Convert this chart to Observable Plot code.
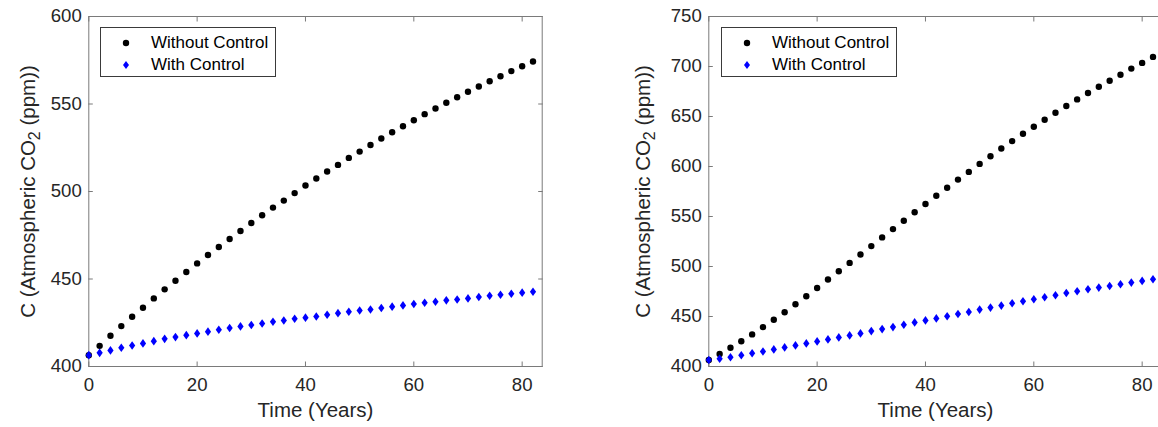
<!DOCTYPE html>
<html>
<head>
<meta charset="utf-8">
<script src="https://cdn.jsdelivr.net/npm/d3@7"></script>
<script src="https://cdn.jsdelivr.net/npm/@observablehq/plot@0.6"></script>
<style>
  body { margin: 0; background: #fff; font-family: "Liberation Sans", Arial, Helvetica, sans-serif; }
  #wrap { position: relative; width: 1158px; height: 427px; overflow: hidden; background: #fff; }
  .panel { position: absolute; top: 0; }
  .panel svg { max-width: none !important; }
  .legend { position: absolute; border: 1px solid #3a3a3a; background: #fff; box-sizing: border-box; }
  .legend .item { position: absolute; font-size: 17px; color: #000; white-space: nowrap; line-height: 1; }
  .legend svg { position: absolute; overflow: visible; }
</style>
</head>
<body>
<div id="wrap"></div>
<script>
// ---- data ----
const years = [0, 2, 4, 6, 8, 10, 12, 14, 16, 18, 20, 22, 24, 26, 28, 30, 32, 34, 36, 38, 40,
               42, 44, 46, 48, 50, 52, 54, 56, 58, 60, 62, 64, 66, 68, 70, 72, 74, 76, 78, 80, 82];

const seriesNames = ["Without Control", "With Control"];

// Left panel
const leftWithout = [406.5, 411.8, 417.6, 423.1, 428.4, 433.6, 438.9, 444.1, 449.0, 454.0, 458.9,
                     463.7, 468.3, 472.9, 477.4, 482.0, 486.4, 490.8, 494.8, 499.1, 503.4,
                     507.4, 511.4, 515.2, 519.2, 522.8, 526.6, 530.3, 533.9, 537.3, 540.7,
                     544.2, 547.4, 550.7, 553.9, 557.0, 560.0, 563.0, 565.9, 568.8, 571.6, 574.3];
const leftWith = [406.5, 407.8, 409.2, 410.7, 412.0, 413.2, 414.5, 415.8, 416.8, 417.9, 418.9,
                  419.9, 421.0, 422.0, 422.9, 423.7, 424.6, 425.6, 426.3, 427.3, 427.9,
                  428.6, 429.6, 430.5, 431.3, 432.0, 432.6, 433.4, 434.2, 434.9, 435.7,
                  436.4, 437.0, 437.8, 438.3, 438.9, 439.7, 440.4, 441.0, 441.6, 442.2, 442.7];

// Right panel
const rightWithout = [406.5, 412.6, 418.8, 425.2, 432.1, 439.4, 446.8, 454.2, 462.2, 470.2, 478.5,
                      487.0, 495.3, 503.6, 512.0, 520.4, 529.1, 537.4, 545.8, 554.2, 562.5,
                      570.8, 578.8, 586.9, 594.6, 602.6, 610.3, 618.0, 625.4, 632.7, 639.7,
                      646.7, 653.8, 660.5, 667.1, 673.5, 679.8, 685.8, 691.8, 697.9, 703.6, 709.6];
const rightWith = [406.5, 407.7, 409.3, 411.3, 413.3, 415.0, 417.1, 419.1, 421.1, 423.1, 425.1,
                   427.1, 429.1, 431.1, 433.1, 435.4, 437.4, 439.4, 441.8, 444.1, 446.1,
                   448.1, 450.2, 452.5, 454.5, 456.9, 458.9, 460.9, 463.2, 465.2, 467.2,
                   469.2, 471.2, 473.5, 475.2, 477.2, 478.9, 480.5, 482.2, 483.9, 485.6, 487.3];

const xTicks = [0, 20, 40, 60, 80];
const leftYTicks = [400, 450, 500, 550, 600];
const rightYTicks = [400, 450, 500, 550, 600, 650, 700, 750];

const xLabel = "Time (Years)";
const yLabel = "C (Atmospheric CO2 (ppm))";

// ---- styling ----
const FONT = '"Liberation Sans", Arial, Helvetica, sans-serif';
const TEXT = "#262626";
const AXIS = "#7a7a7a";
const colors = ["#000000", "#0000ff"];

// tall diamond like MATLAB's 'd' marker
const tallDiamond = {
  draw(context, size) {
    const r = Math.sqrt(size / Math.PI);
    const w = r * 0.78, h = r * 1.08;
    context.moveTo(0, -h);
    context.lineTo(w, 0);
    context.lineTo(0, h);
    context.lineTo(-w, 0);
    context.closePath();
  }
};

const PLOT_W = 453.4;

function makePanel({without, withc, yDomain, yTicks, marginLeft, width, yLabelDx}) {
  const rows = years.map((t, i) => ({t, a: without[i], b: withc[i]}));
  const tick = 4.5;
  const svg = Plot.plot({
    width, height: 427,
    marginTop: 16, marginBottom: 61, marginLeft, marginRight: width - marginLeft - PLOT_W,
    x: {domain: [0, 83.7]},
    y: {domain: yDomain},
    style: {fontFamily: FONT, color: TEXT, background: "transparent", overflow: "visible"},
    marks: [
      Plot.frame({stroke: AXIS, strokeWidth: 1}),
      // tick labels
      Plot.axisX({ticks: xTicks, anchor: "bottom", tickSize: 0, tickPadding: 11, fontSize: 18.6, label: null}),
      Plot.axisY({ticks: yTicks, anchor: "left", tickSize: 0, tickPadding: 7, fontSize: 18.6, label: null}),
      // inward ticks on all four sides
      Plot.axisX({ticks: xTicks, anchor: "bottom", tickSize: tick, dy: -tick, tickFormat: () => "", label: null, stroke: AXIS}),
      Plot.axisX({ticks: xTicks, anchor: "top", tickSize: tick, dy: tick, tickFormat: () => "", label: null, stroke: AXIS}),
      Plot.axisY({ticks: yTicks, anchor: "left", tickSize: tick, dx: tick, tickFormat: () => "", label: null, stroke: AXIS}),
      Plot.axisY({ticks: yTicks, anchor: "right", tickSize: tick, dx: -tick, tickFormat: () => "", label: null, stroke: AXIS}),
      // axis titles
      Plot.text([xLabel], {text: d => d, frameAnchor: "bottom", dy: 44, lineAnchor: "middle", textAnchor: "middle", fontSize: 20.5, fill: TEXT}),
      Plot.text([yLabel], {text: d => d, frameAnchor: "left", dx: yLabelDx, rotate: -90, lineAnchor: "middle", textAnchor: "middle", fontSize: 20.5, fill: TEXT}),
      // data
      Plot.dot(rows, {x: "t", y: "a", r: 3.2, fill: colors[0], stroke: "none"}),
      Plot.dot(rows, {x: "t", y: "b", r: 4, symbol: tallDiamond, fill: colors[1], stroke: "none"})
    ]
  });
  svg.style.maxWidth = "none";
  // subscript the 2 of CO2
  svg.querySelectorAll("text").forEach(t => {
    if (t.textContent === yLabel) {
      const [before, after] = yLabel.split("CO2");
      t.textContent = "";
      const ns = "http://www.w3.org/2000/svg";
      const s1 = document.createElementNS(ns, "tspan"); s1.textContent = before + "CO";
      const s2 = document.createElementNS(ns, "tspan"); s2.textContent = "2";
      s2.setAttribute("dy", "0.32em"); s2.setAttribute("font-size", "0.78em");
      const s3 = document.createElementNS(ns, "tspan"); s3.textContent = after;
      s3.setAttribute("dy", "-0.25em");
      t.append(s1, s2, s3);
    }
  });
  return svg;
}

function makeLegend(left, top) {
  const box = document.createElement("div");
  box.className = "legend";
  Object.assign(box.style, {left: left + "px", top: top + "px", width: "176px", height: "50px"});
  seriesNames.forEach((name, i) => {
    const cy = 15 + i * 22;
    const mk = document.createElementNS("http://www.w3.org/2000/svg", "svg");
    mk.setAttribute("width", "10"); mk.setAttribute("height", "10");
    mk.style.left = "20px"; mk.style.top = (cy - 5) + "px";
    mk.innerHTML = i === 0
      ? `<circle cx="5" cy="5" r="3.2" fill="${colors[0]}"/>`
      : `<path d="M5,1 L8,5 L5,9 L2,5 Z" fill="${colors[1]}"/>`;
    box.appendChild(mk);
    const lab = document.createElement("div");
    lab.className = "item";
    lab.textContent = name;
    lab.style.left = "50px";
    lab.style.top = (cy - 9) + "px";
    box.appendChild(lab);
  });
  return box;
}

const wrap = document.getElementById("wrap");

const left = document.createElement("div");
left.className = "panel"; left.style.left = "0px"; left.style.width = "579px";
left.appendChild(makePanel({without: leftWithout, withc: leftWith, yDomain: [400, 600], yTicks: leftYTicks,
                            marginLeft: 88.3, width: 579, yLabelDx: -60.8}));
wrap.appendChild(left);

const right = document.createElement("div");
right.className = "panel"; right.style.left = "579px"; right.style.width = "603px";
right.appendChild(makePanel({without: rightWithout, withc: rightWith, yDomain: [400, 750], yTicks: rightYTicks,
                             marginLeft: 129.3, width: 603, yLabelDx: -65.8}));
wrap.appendChild(right);

wrap.appendChild(makeLegend(100, 27));
wrap.appendChild(makeLegend(721, 27));
</script>
</body>
</html>
